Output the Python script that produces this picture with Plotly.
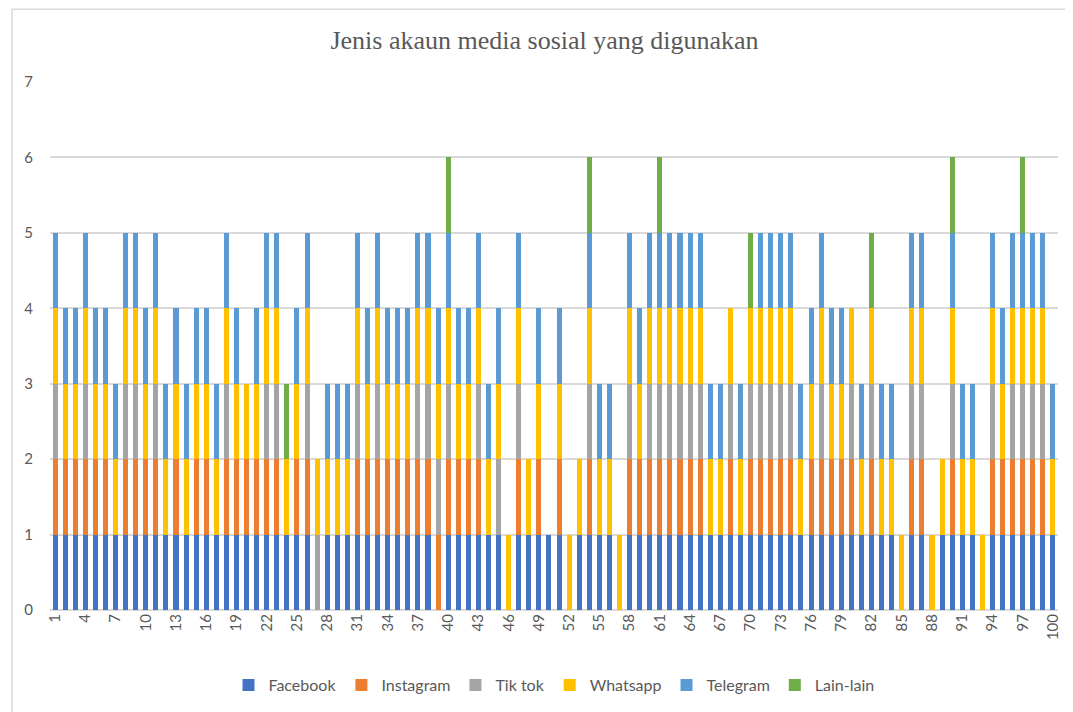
import plotly.graph_objects as go

respondents = list(range(1, 101))

facebook = [
    1,1,1,1,1,1,1,1,1,1,
    1,1,1,1,1,1,1,1,1,1,
    1,1,1,1,1,1,0,1,1,1,
    1,1,1,1,1,1,1,1,0,1,
    1,1,1,1,1,0,1,1,1,1,
    1,0,1,1,1,1,0,1,1,1,
    1,1,1,1,1,1,1,1,1,1,
    1,1,1,1,1,1,1,1,1,1,
    1,1,1,1,0,1,1,0,1,1,
    1,1,0,1,1,1,1,1,1,1,
]
instagram = [
    1,1,1,1,1,1,0,1,1,1,
    1,0,1,0,1,1,0,1,1,1,
    1,1,1,0,1,1,0,0,0,0,
    1,1,1,1,1,1,1,1,1,1,
    1,1,1,0,0,0,1,0,1,0,
    1,0,0,1,0,0,0,1,1,1,
    1,1,1,1,1,0,0,1,0,1,
    1,1,1,1,0,1,1,1,1,1,
    0,1,0,0,0,1,1,0,0,1,
    0,0,0,1,1,1,1,1,1,0,
]
tiktok = [
    1,0,0,1,0,0,0,1,1,0,
    1,0,0,0,0,0,0,1,0,0,
    0,1,1,0,0,1,1,0,0,0,
    1,0,1,0,0,0,1,1,1,1,
    0,0,1,0,1,0,1,0,0,0,
    0,0,0,1,0,0,0,1,0,1,
    1,1,1,1,1,0,0,1,0,1,
    1,1,1,1,0,0,1,0,0,1,
    0,1,0,0,0,1,1,0,0,1,
    0,0,0,1,0,1,1,1,1,0,
]
whatsapp = [
    1,1,1,1,1,1,1,1,1,1,
    1,1,1,1,1,1,1,1,1,1,
    1,1,1,1,1,1,1,1,1,1,
    1,1,1,1,1,1,1,1,1,1,
    1,1,1,1,1,1,1,1,1,0,
    1,1,1,1,1,1,1,1,1,1,
    1,1,1,1,1,1,1,1,1,1,
    1,1,1,1,1,1,1,1,1,1,
    1,1,1,1,1,1,1,1,1,1,
    1,1,1,1,1,1,1,1,1,1,
]
telegram = [
    1,1,1,1,1,1,1,1,1,1,
    1,1,1,1,1,1,1,1,1,0,
    1,1,1,0,1,1,0,1,1,1,
    1,1,1,1,1,1,1,1,1,1,
    1,1,1,1,1,0,1,0,1,0,
    1,0,0,1,1,1,0,1,1,1,
    1,1,1,1,1,1,1,0,1,0,
    1,1,1,1,1,1,1,1,1,0,
    1,0,1,1,0,1,1,0,0,1,
    1,1,0,1,1,1,1,1,1,1,
]
lain_lain = [
    0,0,0,0,0,0,0,0,0,0,
    0,0,0,0,0,0,0,0,0,0,
    0,0,0,1,0,0,0,0,0,0,
    0,0,0,0,0,0,0,0,0,1,
    0,0,0,0,0,0,0,0,0,0,
    0,0,0,1,0,0,0,0,0,0,
    1,0,0,0,0,0,0,0,0,1,
    0,0,0,0,0,0,0,0,0,0,
    0,1,0,0,0,0,0,0,0,1,
    0,0,0,0,0,0,1,0,0,0,
]

series_names = ["Facebook", "Instagram", "Tik tok", "Whatsapp", "Telegram", "Lain-lain"]
series_values = [facebook, instagram, tiktok, whatsapp, telegram, lain_lain]
series_colors = ["#4472C4", "#ED7D31", "#A5A5A5", "#FFC000", "#5B9BD5", "#70AD47"]

x_tick_labels = list(range(1, 101, 3))
y_ticks = list(range(0, 8))

fig = go.Figure()
for name, vals, col in zip(series_names, series_values, series_colors):
    fig.add_trace(go.Bar(x=respondents, y=vals, name=name, marker_color=col,
                         marker_line_width=0))

fig.update_layout(
    barmode="stack",
    bargap=0.5,
    width=1073, height=712,
    paper_bgcolor="white", plot_bgcolor="white",
    margin=dict(l=42, r=23, t=74, b=110, autoexpand=False),
    title=dict(text="Jenis akaun media sosial yang digunakan",
               font=dict(family="Liberation Serif", size=26, color="#595959"),
               x=0.5, xanchor="center", y=0.955, yanchor="middle"),
    font=dict(family="Lato", color="#595959"),
    legend=dict(orientation="h", x=0.5, xanchor="center", y=-0.142, yanchor="middle",
                font=dict(family="Lato", size=16, color="#595959"),
                traceorder="normal", itemwidth=30),
    showlegend=True,
    shapes=[dict(type="rect", xref="paper", yref="paper",
                 x0=-0.0377, x1=1.012, y0=-0.3, y1=1.138,
                 line=dict(color="#D9D9D9", width=1.5), layer="below")],
)
fig.update_xaxes(range=[0.5, 100.5], tickmode="array", tickvals=x_tick_labels,
                 ticktext=[str(v) for v in x_tick_labels], tickangle=-90,
                 tickfont=dict(family="Lato", size=15, color="#595959"),
                 showgrid=False, zeroline=False, showline=False, ticks="")
fig.update_yaxes(range=[0, 7], tickmode="array", tickvals=y_ticks,
                 tickfont=dict(family="Lato", size=15, color="#595959"),
                 showgrid=True, gridcolor="#D9D9D9", gridwidth=1.5,
                 zeroline=True, zerolinecolor="#D9D9D9", zerolinewidth=1.5,
                 ticks="", ticklabelstandoff=16)

fig.write_html("out.html")
